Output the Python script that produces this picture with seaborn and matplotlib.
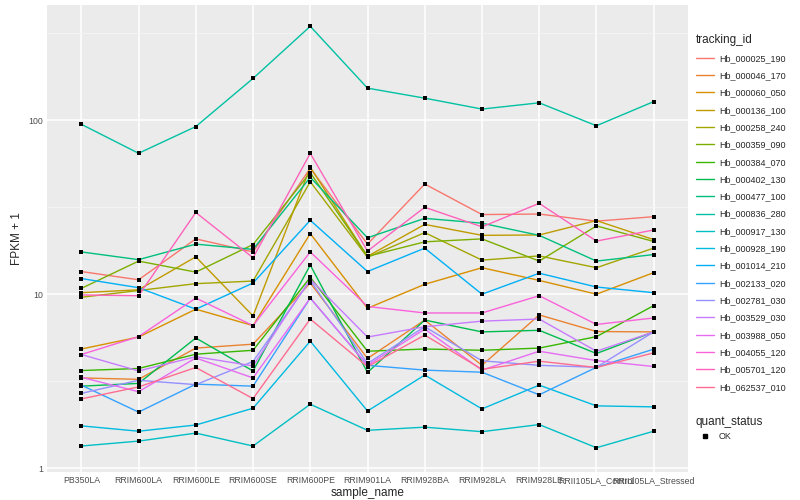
import numpy as np
import pandas as pd
import matplotlib
matplotlib.use('Agg')
import matplotlib.pyplot as plt
from matplotlib.lines import Line2D
from matplotlib.ticker import FixedLocator, NullFormatter
import seaborn as sns

samples = ['PB350LA', 'RRIM600LA', 'RRIM600LE', 'RRIM600SE', 'RRIM600PE', 'RRIM901LA',
           'RRIM928BA', 'RRIM928LA', 'RRIM928LE', 'RRII105LA_Control', 'RRII105LA_Stressed']

ids = ['Hb_000025_190', 'Hb_000046_170', 'Hb_000060_050', 'Hb_000136_100', 'Hb_000258_240',
       'Hb_000359_090', 'Hb_000384_070', 'Hb_000402_130', 'Hb_000477_100', 'Hb_000836_280',
       'Hb_000917_130', 'Hb_000928_190', 'Hb_001014_210', 'Hb_002133_020', 'Hb_002781_030',
       'Hb_003529_030', 'Hb_003988_050', 'Hb_004055_120', 'Hb_005701_120', 'Hb_062537_010']

# FPKM + 1 per gene
hb_000025_190 = [13.5, 12.1, 20.8, 17.5, 53.0, 19.4, 43.0, 28.7, 28.9, 26.3, 27.9]
hb_000046_170 = [3.3, 3.24, 4.9, 5.16, 11.6, 4.27, 7.1, 3.9, 7.6, 6.1, 6.07]
hb_000060_050 = [4.84, 5.67, 8.2, 6.6, 22.3, 8.3, 11.4, 14.2, 12.0, 10.0, 13.3]
hb_000136_100 = [10.2, 10.6, 16.4, 7.5, 53.7, 16.5, 25.2, 21.8, 21.9, 26.5, 20.6]
hb_000258_240 = [9.6, 10.5, 11.5, 11.9, 44.3, 16.3, 22.6, 15.7, 16.6, 14.2, 18.4]
hb_000359_090 = [10.8, 15.5, 13.4, 19.3, 50.0, 16.5, 20.0, 20.8, 15.5, 24.7, 20.1]
hb_000384_070 = [3.64, 3.74, 4.52, 4.76, 12.5, 4.7, 4.84, 4.76, 4.9, 5.7, 8.6]
hb_000402_130 = [2.96, 3.07, 5.6, 3.62, 14.7, 3.55, 7.1, 6.07, 6.2, 4.56, 6.07]
hb_000477_100 = [17.5, 15.8, 19.4, 18.1, 47.0, 21.1, 27.3, 25.6, 21.8, 15.5, 16.9]
hb_000836_280 = [94.8, 64.6, 92.0, 174.0, 347.0, 153.0, 134.0, 116.0, 126.0, 93.0, 128.0]
hb_000917_130 = [1.34, 1.43, 1.59, 1.34, 2.33, 1.65, 1.72, 1.62, 1.78, 1.31, 1.63]
hb_000928_190 = [1.75, 1.63, 1.77, 2.21, 5.37, 2.13, 3.43, 2.19, 3.0, 2.28, 2.25]
hb_001014_210 = [12.3, 10.9, 8.2, 11.6, 26.6, 13.5, 18.4, 10.0, 13.2, 11.0, 10.2]
hb_002133_020 = [3.0, 2.1, 3.04, 2.96, 9.5, 3.9, 3.66, 3.56, 2.64, 3.8, 4.83]
hb_002781_030 = [2.69, 3.2, 3.02, 4.1, 12.0, 4.0, 6.5, 4.14, 3.9, 3.8, 6.07]
hb_003529_030 = [4.5, 3.62, 4.37, 3.87, 12.2, 5.67, 6.5, 7.0, 7.2, 4.7, 6.07]
hb_003988_050 = [3.33, 2.75, 4.3, 3.3, 9.5, 3.9, 6.3, 3.66, 4.7, 4.15, 3.84]
hb_004055_120 = [4.5, 5.7, 9.5, 6.6, 17.5, 8.5, 7.8, 7.8, 9.8, 6.7, 7.3]
hb_005701_120 = [9.9, 9.8, 29.5, 16.2, 64.5, 17.7, 31.6, 24.4, 33.3, 20.2, 23.4]
hb_062537_010 = [2.5, 2.93, 3.79, 2.51, 7.2, 3.83, 5.82, 3.7, 4.12, 3.79, 4.6]

series = [hb_000025_190, hb_000046_170, hb_000060_050, hb_000136_100, hb_000258_240,
          hb_000359_090, hb_000384_070, hb_000402_130, hb_000477_100, hb_000836_280,
          hb_000917_130, hb_000928_190, hb_001014_210, hb_002133_020, hb_002781_030,
          hb_003529_030, hb_003988_050, hb_004055_120, hb_005701_120, hb_062537_010]

# ggplot default hue palette for 20 levels
pal = ['#F8766D', '#EA8331', '#D89000', '#C09B00', '#A3A500', '#7CAE00', '#39B600',
       '#00BB4E', '#00BF7D', '#00C1A3', '#00BFC4', '#00BAE0', '#00B0F6', '#35A2FF',
       '#9590FF', '#C77CFF', '#E76BF3', '#FA62DB', '#FF62BC', '#FF6C91']

rows = []
for gid, vals in zip(ids, series):
    for s, v in zip(samples, vals):
        rows.append({'tracking_id': gid, 'sample_name': s, 'fpkm1': v, 'quant_status': 'OK'})
df = pd.DataFrame(rows)
df['x'] = df.sample_name.map({s: i for i, s in enumerate(samples)})

sns.set_style('darkgrid', {'axes.facecolor': '#EBEBEB', 'grid.color': 'white'})
plt.rcParams['font.family'] = ['Liberation Sans', 'DejaVu Sans']

fig, ax = plt.subplots(1, figsize=(8, 5), dpi=100)
fig.subplots_adjust(left=47/800, right=688/800, top=1-5/500, bottom=1-472/500)

sns.lineplot(data=df, x='x', y='fpkm1', hue='tracking_id', hue_order=ids, palette=pal,
             ax=ax, linewidth=1.0, legend=False, estimator=None, sort=False)
sns.scatterplot(data=df, x='x', y='fpkm1', color='black', marker='s', s=10,
                linewidth=0, ax=ax, legend=False, zorder=5)

ax.set_yscale('log')
ax.set_ylim(0.95, 460)
ax.set_xlim(-0.6, len(samples) - 0.4)
ax.yaxis.set_major_locator(FixedLocator([1, 10, 100]))
ax.yaxis.set_minor_locator(FixedLocator([10**0.5, 10**1.5, 10**2.5]))
ax.yaxis.set_minor_formatter(NullFormatter())
ax.set_yticklabels(['1', '10', '100'])
ax.set_xticks(range(len(samples)))
ax.set_xticklabels(samples)
ax.grid(which='major', color='white', linewidth=1.1)
ax.grid(which='minor', axis='y', color='#F5F5F5', linewidth=0.6)
ax.tick_params(axis='both', which='major', labelsize=6.3, length=2, color='#333333',
               labelcolor='#4D4D4D', pad=1)
ax.tick_params(axis='y', which='minor', length=0)
for sp in ax.spines.values():
    sp.set_visible(False)
ax.set_xlabel('sample_name', fontsize=8.5, labelpad=1)
ax.set_ylabel('FPKM + 1', fontsize=8.5, labelpad=4)

handles = [Line2D([], [], color=c, lw=1.0) for c in pal]
leg1 = fig.legend(handles, ids, title='tracking_id', loc='upper left',
                  bbox_to_anchor=(692/800, 1-30/500), frameon=False, fontsize=6.5,
                  title_fontsize=8.5, handlelength=2.0, labelspacing=0.92,
                  handletextpad=0.6, borderaxespad=0)
leg1._legend_box.align = 'left'
h2 = [Line2D([], [], color='black', marker='s', markersize=3, lw=0)]
leg2 = fig.legend(h2, ['OK'], title='quant_status', loc='upper left',
                  bbox_to_anchor=(692/800, 1-412/500), frameon=False, fontsize=6.5,
                  title_fontsize=8.5, handlelength=2.0, handletextpad=0.6, borderaxespad=0)
leg2._legend_box.align = 'left'

fig.savefig('out.png', dpi=100)
plt.close(fig)
